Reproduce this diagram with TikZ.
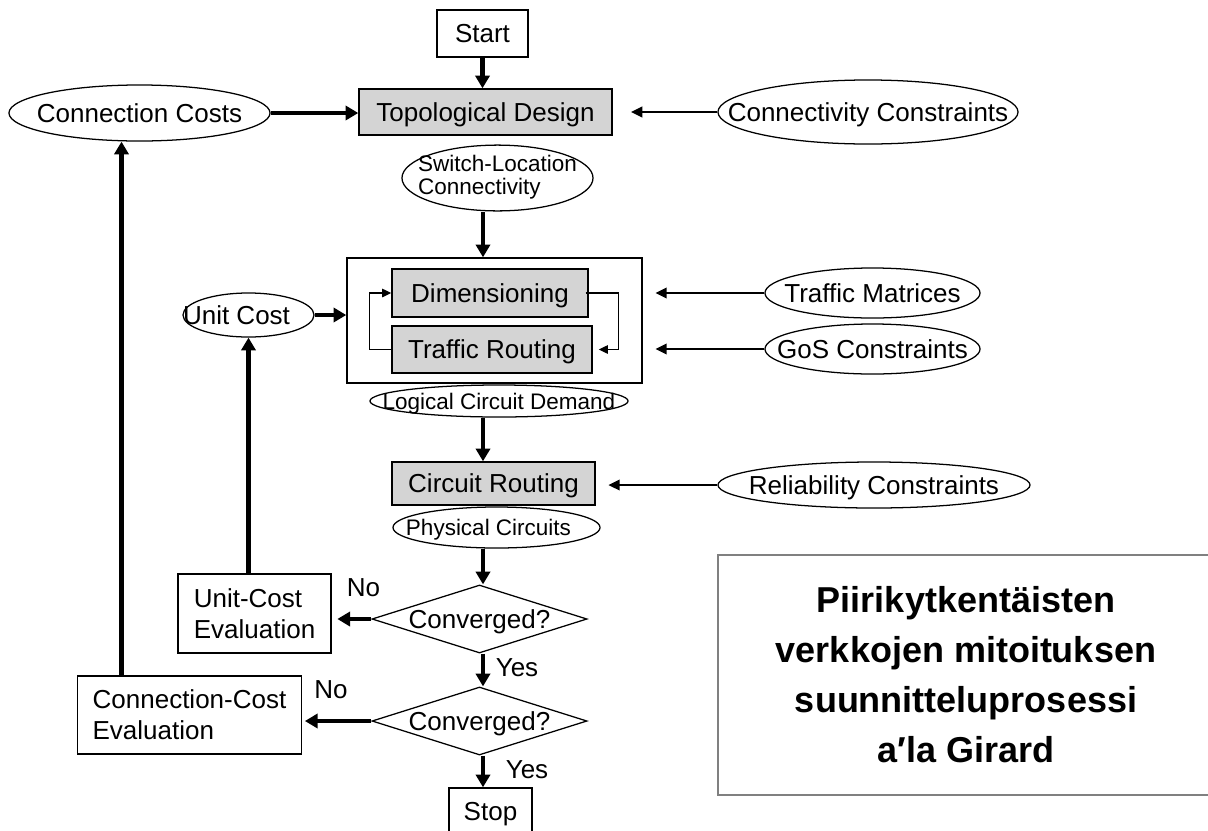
\documentclass[tikz,border=0pt]{standalone}
\usepackage{fontspec}
\setmainfont{Liberation Sans}
\usetikzlibrary{shapes.geometric,arrows.meta,calc,positioning}
\definecolor{procgray}{RGB}{212,212,212}
\newcommand{\nowidth}[1]{\makebox[0pt]{#1}}

\begin{document}
\begin{tikzpicture}[x=0.025cm,y=-0.025cm,
		every node/.style={font=\fontsize{18.5}{22}\selectfont,inner sep=0pt},
		ctext/.style={text height=13.2pt,text depth=0pt},
		stext/.style={text height=11.4pt,text depth=0pt},
		frame/.style={draw,line width=1pt,rectangle},
		box/.style={frame,ctext},
		proc/.style={box,fill=procgray},
		oval/.style={draw,line width=0.9pt,ellipse},
		word/.style={oval,ctext},
		small/.style={font=\fontsize{16}{16.5}\selectfont},
		sword/.style={oval,small,stext},
		test/.style={draw,line width=0.9pt,diamond,ctext,minimum width=5.375cm,minimum height=1.7cm},
		flow/.style={line width=3pt,-{Triangle[length=9pt,width=10pt]}},
		input/.style={line width=1.4pt,-{Triangle[length=8pt,width=7.5pt]}},
		iter/.style={line width=1pt,-{Triangle[length=6.5pt,width=6pt]}}]
		\useasboundingbox (0,0) rectangle (1208,830);
		\coordinate (spine) at (483,0);
		%
		\node[box,minimum width=2.275cm,minimum height=1.175cm] (start) at (482.5,33.5) {Start};
		\node[proc,minimum width=6.325cm,minimum height=1.15cm] (topo) at (485.5,112) {Topological Design};
		\node[word,minimum width=6.525cm,minimum height=1.4cm] (ccost) at (139.5,113) {\nowidth{Connection Costs}};
		\node[word,minimum width=7.5cm,minimum height=1.6cm] (conn) at (868,112) {\nowidth{Connectivity Constraints}};
		\node[oval,small,minimum width=4.775cm,minimum height=1.6cm] (swloc) at (497.5,178)
			{\nowidth{\begin{tabular}{@{}l@{}}Switch-Location\\Connectivity\end{tabular}}};
		%
		\node[frame,minimum width=7.375cm,minimum height=3.125cm] (big) at (494.5,320.5) {};
		\node[proc,minimum width=4.9cm,minimum height=1.2cm] (dim) at (490,293) {Dimensioning};
		\node[proc,minimum width=5cm,minimum height=1.175cm] (trout) at (492,349.5) {Traffic Routing};
		\node[word,minimum width=3.275cm,minimum height=1.1cm] (ucost) at (248.5,315) {\nowidth{Unit Cost\hspace{0.6cm}}};
		\node[word,minimum width=5.375cm,minimum height=1.25cm] (tmat) at (872.5,293) {\nowidth{Traffic Matrices}};
		\node[word,minimum width=5.375cm,minimum height=1.25cm] (gos) at (872.5,349) {\nowidth{GoS Constraints}};
		%
		\node[sword,minimum width=6.45cm,minimum height=0.8cm] (lcd) at (499,401) {\nowidth{Logical Circuit Demand}};
		\node[proc,minimum width=5.075cm,minimum height=1.075cm] (crout) at (493.5,483.5) {Circuit Routing};
		\node[word,minimum width=7.8cm,minimum height=1.15cm] (rel) at (874,485) {\nowidth{Reliability Constraints}};
		\node[sword,minimum width=5.175cm,minimum height=1.025cm] (pc) at (496.5,527.5) {\nowidth{Physical Circuits\hspace{0.4cm}}};
		%
		\node[test] (conv1) at (479.5,619) {\nowidth{Converged?}};
		\node[test] (conv2) at (479.5,721) {\nowidth{Converged?}};
		\node[frame,align=left,inner xsep=0.375cm,minimum width=3.825cm,minimum height=1.975cm] (uce) at (254.5,613.5) {Unit-Cost\\Evaluation};
		\node[frame,align=left,inner xsep=0.375cm,minimum height=1.95cm] (cce) at (189.5,715) {Connection-Cost\\Evaluation};
		\node[box,minimum width=2.075cm,minimum height=1.175cm] (stop) at (490.5,811.5) {Stop};
		\node (no1) at (363.5,588) {No};
		\node (no2) at (331,690) {No};
		\node (yes1) at (517,668) {Yes};
		\node (yes2) at (527,770) {Yes};
		%
		\node[draw=gray,line width=0.8pt,minimum width=12.4cm,minimum height=6cm,align=center,
			font=\bfseries\fontsize{25.6}{35.6}\selectfont] (title) at (966,675)
			{Piirikytkentäisten\\verkkojen mitoituksen\\suunnitteluprosessi\\a′la Girard};
		%
		\draw[flow] (start.south) -- (start.south |- topo.north);
		\draw[flow] (ccost) -- (ccost -| topo.west);
		\draw[input,shorten >=13pt] (conn) -- (conn -| topo.east);
		\draw[flow] (swloc.south -| spine) -- (big.north -| spine);
		\draw[flow] (ucost) -- (ucost -| big.west);
		\draw[input,shorten >=9pt] (tmat) -- (tmat -| big.east);
		\draw[input,shorten >=9pt] (gos) -- (gos -| big.east);
		\draw[iter] (trout.west) -- ++(-22,0) |- (dim.west);
		\draw[iter] ($(dim.east)+(-3,0)$) -- ++(33,0) |- ($(trout.east)+(6,0)$);
		\draw[flow] (lcd.south -| spine) -- (crout.north -| spine);
		\draw[input,shorten >=9pt] (rel) -- (rel -| crout.east);
		\draw[flow] (pc.south -| spine) -- (conv1.north -| spine);
		\draw[flow,shorten >=4pt] (conv1.west) -- (conv1.west -| uce.east);
		\draw[flow] (conv1.south -| spine) -- (conv2.north -| spine);
		\draw[flow,shorten >=2pt] (conv2.west) -- (conv2.west -| cce.east);
		\draw[flow] (conv2.south -| spine) -- (stop.north -| spine);
		\draw[flow] (uce.north -| ucost.south) -- (ucost.south);
		\coordinate (cctip) at ($(ccost.south)+(-18,0)$);
		\draw[flow] (cce.north -| cctip) -- (cctip);
	\end{tikzpicture}
\end{document}
